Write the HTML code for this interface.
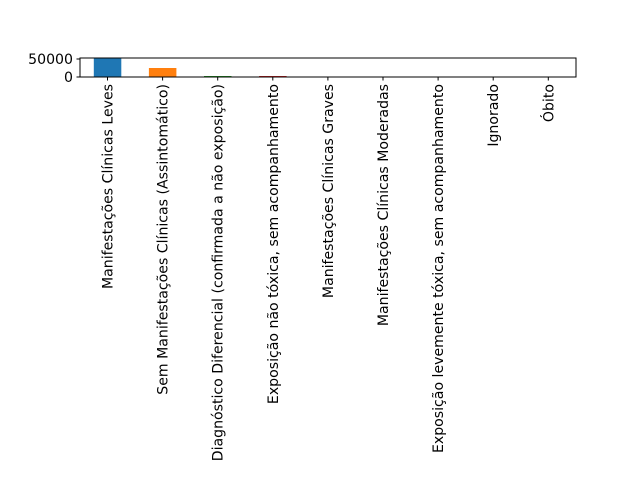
<html><body style="margin:0;background:#fff">
<svg width="640" height="480" xmlns="http://www.w3.org/2000/svg" font-family="DejaVu Sans, sans-serif" font-size="14.1">
<rect x="93.8" y="58.5" width="27.5" height="18.5" fill="#1f77b4"/>
<rect x="148.9" y="68" width="27.5" height="9" fill="#ff7f0e"/>
<rect x="204" y="76" width="27.5" height="1" fill="#2ca02c"/>
<rect x="259.1" y="76" width="27.5" height="1" fill="#d62728"/>
<rect x="80" y="58" width="496" height="19" fill="none" stroke="#000" stroke-width="1"/>
<g stroke="#000">
<line x1="76.5" y1="59" x2="80" y2="59"/><line x1="76.5" y1="77" x2="80" y2="77"/>
</g>
<text x="73" y="64" text-anchor="end">50000</text>
<text x="73" y="82" text-anchor="end">0</text>
<g stroke="#000">
<line x1="107.5" y1="77" x2="107.5" y2="80.5"/><line x1="162.6" y1="77" x2="162.6" y2="80.5"/><line x1="217.7" y1="77" x2="217.7" y2="80.5"/><line x1="272.8" y1="77" x2="272.8" y2="80.5"/><line x1="327.9" y1="77" x2="327.9" y2="80.5"/><line x1="383" y1="77" x2="383" y2="80.5"/><line x1="438.1" y1="77" x2="438.1" y2="80.5"/><line x1="493.2" y1="77" x2="493.2" y2="80.5"/><line x1="548.3" y1="77" x2="548.3" y2="80.5"/>
</g>
<g text-anchor="end">
<text transform="translate(112.5,84) rotate(-90)">Manifestações Clínicas Leves</text>
<text transform="translate(167.6,84) rotate(-90)">Sem Manifestações Clínicas (Assintomático)</text>
<text transform="translate(222.7,84) rotate(-90)">Diagnóstico Diferencial (confirmada a não exposição)</text>
<text transform="translate(277.8,84) rotate(-90)">Exposição não tóxica, sem acompanhamento</text>
<text transform="translate(332.9,84) rotate(-90)">Manifestações Clínicas Graves</text>
<text transform="translate(388,84) rotate(-90)">Manifestações Clínicas Moderadas</text>
<text transform="translate(443.1,84) rotate(-90)">Exposição levemente tóxica, sem acompanhamento</text>
<text transform="translate(498.2,84) rotate(-90)">Ignorado</text>
<text transform="translate(553.3,84) rotate(-90)">Óbito</text>
</g>
</svg>
</body></html>
